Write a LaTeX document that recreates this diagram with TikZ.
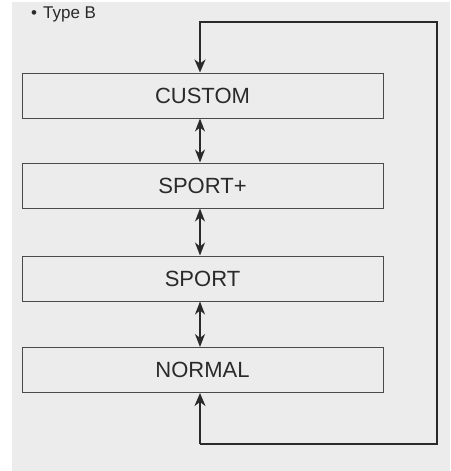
\documentclass[tikz,border=0pt]{standalone}
\usepackage{fontspec}
\setmainfont{Liberation Sans}
\usetikzlibrary{arrows.meta}
\definecolor{bg}{HTML}{ECECEC}
\definecolor{ink}{HTML}{2A2A2A}
\definecolor{boxline}{HTML}{4A4A4A}
\tikzset{
  modebox/.style={draw=boxline, line width=1pt, fill=bg, minimum width=361pt, minimum height=45pt, inner sep=0pt, text=ink, font=\fontsize{22}{26}\selectfont},
  dblarrow/.style={draw=ink, line width=1.2pt, {Stealth[length=13pt,width=10pt,inset=4pt]}-{Stealth[length=13pt,width=10pt,inset=4pt]}},
  looparrow/.style={draw=ink, line width=1.8pt, -{Stealth[length=13pt,width=11pt,inset=4pt]}},
}
\begin{document}
\begin{tikzpicture}[x=1pt,y=-1pt]
\useasboundingbox (0,0) rectangle (450,471);
\fill[bg] (12,2) rectangle (450,471);
\node[anchor=base west, text=ink, font=\fontsize{17}{20}\selectfont, inner sep=0pt] (title) at (31,18) {•\hspace{6pt}Type B};
\node[modebox] (custom) at (202.5,95.5) {CUSTOM};
\node[modebox] (sportp) at (202.5,185.5) {SPORT+};
\node[modebox] (sport) at (202.5,278.5) {SPORT};
\node[modebox] (normal) at (202.5,370) {NORMAL};
\draw[dblarrow] (custom.south -| 200,0) -- (sportp.north -| 200,0);
\draw[dblarrow] (sportp.south -| 200,0) -- (sport.north -| 200,0);
\draw[dblarrow] (sport.south -| 200,0) -- (normal.north -| 200,0);
\coordinate (la) at (200,444);
\coordinate (lb) at (437,444);
\coordinate (lc) at (437,22);
\coordinate (ld) at (200,22);
\draw[looparrow, line join=miter] (la) -- (lb) -- (lc) -- (ld) -- (custom.north -| ld);
\draw[looparrow] (la) -- (normal.south -| la);
\end{tikzpicture}
\end{document}
